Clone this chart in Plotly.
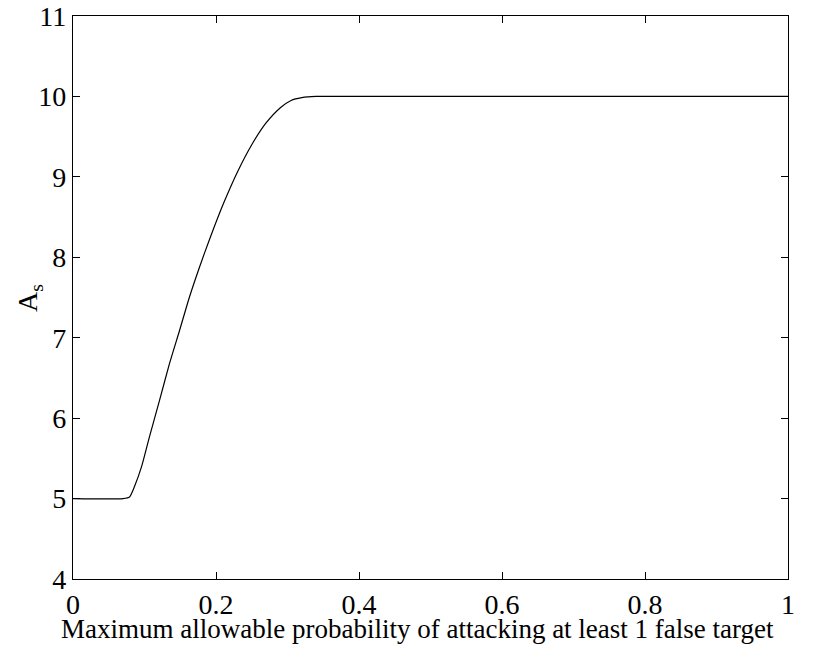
import plotly.graph_objects as go

# Curve of A_s versus the maximum allowable probability
prob = [0.0, 0.070, 0.079, 0.086, 0.096, 0.107, 0.121, 0.135, 0.149, 0.163,
        0.177, 0.190, 0.211, 0.231, 0.250, 0.270, 0.290, 0.305, 0.320, 0.340,
        0.40, 0.55, 0.70, 0.85, 1.0]
a_s = [5.0, 5.0, 5.02, 5.15, 5.40, 5.77, 6.22, 6.68, 7.09, 7.51,
       7.88, 8.20, 8.68, 9.08, 9.40, 9.67, 9.86, 9.95, 9.985, 10.0,
       10.0, 10.0, 10.0, 10.0, 10.0]

x_ticks = [0, 0.2, 0.4, 0.6, 0.8, 1]
x_tick_text = ["0", "0.2", "0.4", "0.6", "0.8", "1"]
y_ticks = [4, 5, 6, 7, 8, 9, 10, 11]

x_title = "Maximum allowable probability of attacking at least 1 false target"
y_title = "A<sub>s</sub>"

font_family = "Liberation Serif"
W, H = 817, 648
ML, MR, MT, MB = 73, 29, 16, 69

fig = go.Figure()
fig.add_trace(go.Scatter(x=prob, y=a_s, mode="lines",
                         line=dict(color="black", width=1.2, shape="spline",
                                   smoothing=0.6),
                         showlegend=False))

axis_common = dict(showline=True, linecolor="black", linewidth=1.3,
                   mirror="ticks", ticks="inside", ticklen=7, tickwidth=1,
                   tickcolor="black", showgrid=False, zeroline=False,
                   automargin=False,
                   tickfont=dict(family=font_family, size=28, color="black"))

fig.update_xaxes(range=[0, 1], tickvals=x_ticks, ticktext=x_tick_text,
                 **axis_common)
fig.update_yaxes(range=[4, 11], tickvals=y_ticks, **axis_common)

# Axis titles placed in paper pixels relative to the plot area
pw = W - ML - MR
ph = H - MT - MB


def px_to_paper_x(px):
    return (px - ML) / pw


def px_to_paper_y(py):
    return (H - MB - py) / ph


fig.add_annotation(text=x_title, xref="paper", yref="paper",
                   x=px_to_paper_x(417), y=px_to_paper_y(629),
                   xanchor="center", yanchor="middle", showarrow=False,
                   font=dict(family=font_family, size=27, color="black"))
fig.add_annotation(text=y_title, xref="paper", yref="paper",
                   x=px_to_paper_x(29), y=px_to_paper_y(298),
                   xanchor="center", yanchor="middle", showarrow=False,
                   textangle=-90,
                   font=dict(family=font_family, size=28, color="black"))

fig.update_layout(width=W, height=H,
                  margin=dict(l=ML, r=MR, t=MT, b=MB, autoexpand=False),
                  paper_bgcolor="white", plot_bgcolor="white")

fig.write_html("out.html")
